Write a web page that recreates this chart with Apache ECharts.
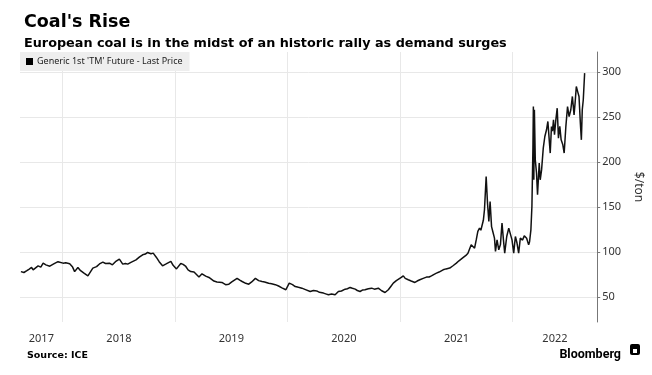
<!DOCTYPE html>
<html>
<head>
<meta charset="utf-8">
<script src="https://cdn.jsdelivr.net/npm/echarts@6/dist/echarts.min.js"></script>
<style>
  html, body { margin: 0; padding: 0; background: #fff; }
  #chart { width: 652px; height: 375px; }
</style>
</head>
<body>
<div id="chart"></div>
<script>
// trade dates as decimal years
var dates = [
  2017.628, 2017.655, 2017.681, 2017.699, 2017.723, 2017.737, 2017.752, 2017.781, 2017.805, 2017.826,
  2017.850, 2017.885, 2017.920, 2017.958, 2018.003, 2018.027, 2018.062, 2018.088, 2018.106, 2018.135,
  2018.159, 2018.186, 2018.224, 2018.248, 2018.268, 2018.301, 2018.327, 2018.357, 2018.381, 2018.416,
  2018.442, 2018.469, 2018.504, 2018.534, 2018.558, 2018.578, 2018.611, 2018.652, 2018.681, 2018.711,
  2018.735, 2018.755, 2018.785, 2018.805, 2018.832, 2018.858, 2018.888, 2018.920, 2018.962, 2018.982,
  2019.012, 2019.050, 2019.071, 2019.095, 2019.115, 2019.139, 2019.168, 2019.212, 2019.239, 2019.272,
  2019.301, 2019.345, 2019.372, 2019.389, 2019.416, 2019.449, 2019.478, 2019.504, 2019.551, 2019.575,
  2019.596, 2019.628, 2019.655, 2019.681, 2019.714, 2019.743, 2019.773, 2019.796, 2019.832, 2019.858,
  2019.891, 2019.920, 2019.950, 2019.985, 2020.015, 2020.044, 2020.068, 2020.097, 2020.127, 2020.159,
  2020.201, 2020.230, 2020.259, 2020.283, 2020.319, 2020.345, 2020.363, 2020.391, 2020.422, 2020.451,
  2020.478, 2020.511, 2020.531, 2020.555, 2020.575, 2020.600, 2020.619, 2020.643, 2020.664, 2020.687,
  2020.717, 2020.746, 2020.770, 2020.805, 2020.835, 2020.865, 2020.894, 2020.916, 2020.938, 2020.965,
  2020.982, 2021.009, 2021.027, 2021.044, 2021.071, 2021.097, 2021.130, 2021.150, 2021.174, 2021.204,
  2021.233, 2021.257, 2021.277, 2021.301, 2021.322, 2021.345, 2021.381, 2021.407, 2021.440, 2021.469,
  2021.499, 2021.522, 2021.558, 2021.584, 2021.602, 2021.619, 2021.631, 2021.646, 2021.661, 2021.677,
  2021.690, 2021.705, 2021.717, 2021.728, 2021.739, 2021.749, 2021.764, 2021.776, 2021.788, 2021.799,
  2021.812, 2021.823, 2021.838, 2021.847, 2021.861, 2021.876, 2021.891, 2021.905, 2021.918, 2021.929,
  2021.947, 2021.965, 2021.980, 2021.994, 2022.009, 2022.024, 2022.038, 2022.053, 2022.068, 2022.088,
  2022.103, 2022.124, 2022.142, 2022.150, 2022.162, 2022.171, 2022.180, 2022.184, 2022.188, 2022.193,
  2022.201, 2022.212, 2022.221, 2022.236, 2022.245, 2022.257, 2022.272, 2022.286, 2022.301, 2022.313,
  2022.325, 2022.334, 2022.345, 2022.354, 2022.363, 2022.372, 2022.384, 2022.396, 2022.407, 2022.419,
  2022.431, 2022.446, 2022.458, 2022.473, 2022.488, 2022.502, 2022.517, 2022.531, 2022.546, 2022.555,
  2022.566, 2022.578, 2022.590, 2022.602, 2022.611, 2022.619, 2022.628, 2022.640
];
// last price, $/ton
var prices = [
  78, 77, 79, 80.5, 82.6, 80, 78, 84.4, 83, 87.4,
  85.5, 84, 86.5, 89, 87.4, 87.8, 86.7, 83, 78, 82.6,
  79, 76.5, 73.3, 78, 81.9, 83.5, 86.5, 88.5, 87, 87.4,
  85.5, 89, 91.9, 86.3, 87, 86.3, 88.5, 91, 94, 96.7,
  97.5, 99.3, 97.8, 98.5, 94, 89, 84.4, 86.5, 89.3, 85,
  81, 87, 86, 83.7, 80, 78, 77.5, 72, 75.6, 73,
  71.5, 67.5, 66.5, 64.5, 66, 63.5, 64, 66.5, 70.5, 68.5,
  67, 65, 64, 66.5, 70.5, 68, 67, 66.5, 65, 64.5,
  63.5, 62, 60, 57.8, 65.2, 63.5, 61.4, 60.5, 59.6, 58,
  55.9, 57, 56.5, 55, 54.1, 53, 52.2, 53, 52.2, 55.9,
  56.5, 58.5, 59, 60.4, 59.5, 58.5, 57, 55.9, 57.5, 57.8,
  59, 59.6, 58.5, 59.6, 56.7, 54.8, 57.8, 61.5, 65.2, 68,
  69.7, 71.5, 73.3, 70.5, 68.9, 67.5, 65.9, 67.5, 68.9, 70.5,
  71.9, 72, 73.3, 75, 76.3, 77.5, 80, 81, 81.9, 84.5,
  87.4, 90, 93.5, 96, 98.5, 104, 107.8, 106, 104, 114,
  122.6, 126.3, 124, 122.6, 135, 146.7, 183.7, 154, 133.7, 155.9,
  128, 122.6, 115.2, 100.4, 113.3, 102.2, 108, 131.9, 113, 98.5,
  117, 126.3, 126, 113.3, 98.5, 117, 110, 98.5, 115.2, 113,
  117.8, 115, 107.8, 111, 124.4, 150.4, 215, 261.4, 180, 257.8,
  202.2, 187.4, 163.3, 198.5, 180, 191, 215.2, 228.1, 235.6, 244.8,
  224.4, 209.7, 239.3, 234, 246.7, 230, 246.7, 259.6, 226.3, 239.3,
  224.4, 218.9, 209.7, 239.3, 261.4, 250.3, 257.8, 272.6, 252.2, 265.2,
  283.7, 278, 272.6, 243, 224.4, 257.8, 268.9, 298.5
];
var yTicks = [50, 100, 150, 200, 250, 300];
var yearStarts = [2018, 2019, 2020, 2021, 2022];
var axisStart = 2017.62;
var axisEnd = 2022.752;

function yearToTime (y) {
  var yr = Math.floor(y)
  var a = Date.UTC(yr, 0, 1)
  var b = Date.UTC(yr + 1, 0, 1)
  return a + (y - yr) * (b - a)
}

// year labels sit in the middle of the visible part of each year
var labelTimes = []
for (var yr = Math.floor(axisStart); yr <= Math.floor(axisEnd); yr++) {
  var lo = Math.max(axisStart, yr)
  var hi = Math.min(axisEnd, yr + 1)
  labelTimes.push(yearToTime((lo + hi) / 2))
}

var seriesData = dates.map(function (d, i) { return [yearToTime(d), prices[i]] })
var tickFont = '"Noto Sans", sans-serif'
var legendName = "Generic 1st 'TM' Future - Last Price"

var myChart = echarts.init(document.getElementById('chart'))
myChart.setOption({
  animation: false,
  backgroundColor: '#ffffff',
  title: [
    {
      text: "Coal's Rise",
      left: 19, top: 8,
      textStyle: { fontFamily: '"DejaVu Sans", sans-serif', fontWeight: 'bold', fontSize: 17.5, color: '#000' }
    },
    {
      text: 'European coal is in the midst of an historic rally as demand surges',
      left: 19, top: 32,
      textStyle: { fontFamily: '"DejaVu Sans", sans-serif', fontWeight: 'bold', fontSize: 12.8, color: '#000' }
    },
    {
      text: 'Source: ICE',
      left: 22, top: 346,
      textStyle: { fontFamily: '"DejaVu Sans", sans-serif', fontWeight: 'bold', fontSize: 9.5, color: '#000' }
    },
    {
      text: 'Bloomberg',
      right: 26, top: 343,
      textStyle: { fontFamily: 'Roboto, sans-serif', fontWeight: 'bold', fontSize: 12.5, color: '#000' }
    }
  ],
  graphic: [
    { type: 'rect', right: 12, top: 344, shape: { width: 10, height: 11, r: 2 }, style: { fill: '#000' } },
    { type: 'rect', right: 15, top: 349, shape: { width: 4, height: 4 }, style: { fill: '#fff' } }
  ],
  legend: {
    data: [legendName],
    left: 20, top: 52,
    backgroundColor: '#eeeeee',
    padding: [5, 7, 5, 6],
    icon: 'rect',
    itemWidth: 7,
    itemHeight: 7,
    itemGap: 4,
    textStyle: { fontFamily: tickFont, fontSize: 9, color: '#222', padding: [0, 0, 0, -1] }
  },
  grid: { left: 20, right: 52, top: 52, bottom: 53 },
  xAxis: {
    type: 'value',
    min: yearToTime(axisStart),
    max: yearToTime(axisEnd),
    axisLine: { show: false },
    axisTick: { show: false, customValues: yearStarts.map(function (y) { return yearToTime(y) }) },
    splitLine: { show: true, lineStyle: { color: '#e8e8e8', width: 1 } },
    axisLabel: {
      customValues: labelTimes,
      margin: 11,
      hideOverlap: false,
      color: '#333',
      fontFamily: tickFont,
      fontSize: 11,
      formatter: function (v) { return String(new Date(v).getUTCFullYear()) }
    }
  },
  yAxis: {
    type: 'value',
    position: 'right',
    min: 22,
    max: 322,
    name: '$/ton',
    nameLocation: 'middle',
    nameRotate: -90,
    nameGap: 27,
    nameTextStyle: { fontFamily: tickFont, fontSize: 12, color: '#333' },
    axisLine: { show: true, lineStyle: { color: '#777', width: 1 } },
    axisTick: { show: true, length: 3, customValues: yTicks, lineStyle: { color: '#777' } },
    splitLine: { show: true, lineStyle: { color: '#e8e8e8', width: 1 } },
    axisLabel: {
      customValues: yTicks,
      margin: 5,
      color: '#333',
      fontFamily: tickFont,
      fontSize: 11
    }
  },
  series: [
    {
      name: legendName,
      type: 'line',
      data: seriesData,
      showSymbol: false,
      symbol: 'none',
      color: '#000',
      lineStyle: { color: '#111', width: 1.5 }
    }
  ]
})
</script>
</body>
</html>
